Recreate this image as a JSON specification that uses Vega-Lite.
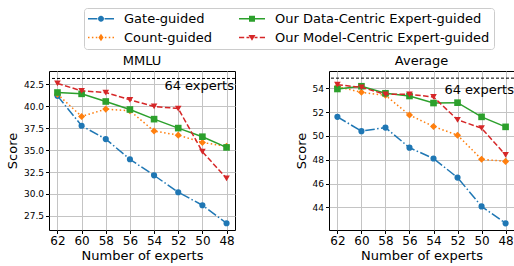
{
  "$schema": "https://vega.github.io/schema/vega-lite/v6.json",
  "padding": {"left": 5, "top": 7, "right": 0, "bottom": 0},
  "spacing": 58,
  "datasets": {
    "scores": [
      {"bench": "MMLU", "method": "Gate-guided", "experts": 62, "score": 41.17},
      {"bench": "MMLU", "method": "Gate-guided", "experts": 60, "score": 37.77},
      {"bench": "MMLU", "method": "Gate-guided", "experts": 58, "score": 36.25},
      {"bench": "MMLU", "method": "Gate-guided", "experts": 56, "score": 33.95},
      {"bench": "MMLU", "method": "Gate-guided", "experts": 54, "score": 32.12},
      {"bench": "MMLU", "method": "Gate-guided", "experts": 52, "score": 30.2},
      {"bench": "MMLU", "method": "Gate-guided", "experts": 50, "score": 28.72},
      {"bench": "MMLU", "method": "Gate-guided", "experts": 48, "score": 26.67},
      {"bench": "MMLU", "method": "Count-guided", "experts": 62, "score": 41.36},
      {"bench": "MMLU", "method": "Count-guided", "experts": 60, "score": 38.83},
      {"bench": "MMLU", "method": "Count-guided", "experts": 58, "score": 39.66},
      {"bench": "MMLU", "method": "Count-guided", "experts": 56, "score": 39.47},
      {"bench": "MMLU", "method": "Count-guided", "experts": 54, "score": 37.16},
      {"bench": "MMLU", "method": "Count-guided", "experts": 52, "score": 36.7},
      {"bench": "MMLU", "method": "Count-guided", "experts": 50, "score": 35.87},
      {"bench": "MMLU", "method": "Count-guided", "experts": 48, "score": 35.42},
      {"bench": "MMLU", "method": "Our Data-Centric Expert-guided", "experts": 62, "score": 41.55},
      {"bench": "MMLU", "method": "Our Data-Centric Expert-guided", "experts": 60, "score": 41.4},
      {"bench": "MMLU", "method": "Our Data-Centric Expert-guided", "experts": 58, "score": 40.53},
      {"bench": "MMLU", "method": "Our Data-Centric Expert-guided", "experts": 56, "score": 39.62},
      {"bench": "MMLU", "method": "Our Data-Centric Expert-guided", "experts": 54, "score": 38.52},
      {"bench": "MMLU", "method": "Our Data-Centric Expert-guided", "experts": 52, "score": 37.5},
      {"bench": "MMLU", "method": "Our Data-Centric Expert-guided", "experts": 50, "score": 36.52},
      {"bench": "MMLU", "method": "Our Data-Centric Expert-guided", "experts": 48, "score": 35.3},
      {"bench": "MMLU", "method": "Our Model-Centric Expert-guided", "experts": 62, "score": 42.58},
      {"bench": "MMLU", "method": "Our Model-Centric Expert-guided", "experts": 60, "score": 41.74},
      {"bench": "MMLU", "method": "Our Model-Centric Expert-guided", "experts": 58, "score": 41.55},
      {"bench": "MMLU", "method": "Our Model-Centric Expert-guided", "experts": 56, "score": 40.72},
      {"bench": "MMLU", "method": "Our Model-Centric Expert-guided", "experts": 54, "score": 39.96},
      {"bench": "MMLU", "method": "Our Model-Centric Expert-guided", "experts": 52, "score": 39.73},
      {"bench": "MMLU", "method": "Our Model-Centric Expert-guided", "experts": 50, "score": 34.81},
      {"bench": "MMLU", "method": "Our Model-Centric Expert-guided", "experts": 48, "score": 31.78},
      {"bench": "Average", "method": "Gate-guided", "experts": 62, "score": 51.6},
      {"bench": "Average", "method": "Gate-guided", "experts": 60, "score": 50.4},
      {"bench": "Average", "method": "Gate-guided", "experts": 58, "score": 50.7},
      {"bench": "Average", "method": "Gate-guided", "experts": 56, "score": 49.01},
      {"bench": "Average", "method": "Gate-guided", "experts": 54, "score": 48.1},
      {"bench": "Average", "method": "Gate-guided", "experts": 52, "score": 46.5},
      {"bench": "Average", "method": "Gate-guided", "experts": 50, "score": 44.08},
      {"bench": "Average", "method": "Gate-guided", "experts": 48, "score": 42.66},
      {"bench": "Average", "method": "Count-guided", "experts": 62, "score": 54.14},
      {"bench": "Average", "method": "Count-guided", "experts": 60, "score": 53.66},
      {"bench": "Average", "method": "Count-guided", "experts": 58, "score": 53.41},
      {"bench": "Average", "method": "Count-guided", "experts": 56, "score": 51.75},
      {"bench": "Average", "method": "Count-guided", "experts": 54, "score": 50.79},
      {"bench": "Average", "method": "Count-guided", "experts": 52, "score": 50.06},
      {"bench": "Average", "method": "Count-guided", "experts": 50, "score": 48.04},
      {"bench": "Average", "method": "Count-guided", "experts": 48, "score": 47.86},
      {"bench": "Average", "method": "Our Data-Centric Expert-guided", "experts": 62, "score": 53.94},
      {"bench": "Average", "method": "Our Data-Centric Expert-guided", "experts": 60, "score": 54.17},
      {"bench": "Average", "method": "Our Data-Centric Expert-guided", "experts": 58, "score": 53.58},
      {"bench": "Average", "method": "Our Data-Centric Expert-guided", "experts": 56, "score": 53.35},
      {"bench": "Average", "method": "Our Data-Centric Expert-guided", "experts": 54, "score": 52.76},
      {"bench": "Average", "method": "Our Data-Centric Expert-guided", "experts": 52, "score": 52.79},
      {"bench": "Average", "method": "Our Data-Centric Expert-guided", "experts": 50, "score": 51.6},
      {"bench": "Average", "method": "Our Data-Centric Expert-guided", "experts": 48, "score": 50.76},
      {"bench": "Average", "method": "Our Model-Centric Expert-guided", "experts": 62, "score": 54.3},
      {"bench": "Average", "method": "Our Model-Centric Expert-guided", "experts": 60, "score": 54.08},
      {"bench": "Average", "method": "Our Model-Centric Expert-guided", "experts": 58, "score": 53.49},
      {"bench": "Average", "method": "Our Model-Centric Expert-guided", "experts": 56, "score": 53.49},
      {"bench": "Average", "method": "Our Model-Centric Expert-guided", "experts": 54, "score": 53.27},
      {"bench": "Average", "method": "Our Model-Centric Expert-guided", "experts": 52, "score": 51.35},
      {"bench": "Average", "method": "Our Model-Centric Expert-guided", "experts": 50, "score": 50.65},
      {"bench": "Average", "method": "Our Model-Centric Expert-guided", "experts": 48, "score": 48.4}
    ],
    "refs": [
      {"bench": "MMLU", "score": 43.15, "label": "64 experts"},
      {"bench": "Average", "score": 54.85, "label": "64 experts"}
    ]
  },
  "hconcat": [
    {
      "width": 186,
      "height": 159,
      "title": "MMLU",
      "layer": [
        {
          "data": {"name": "refs"},
          "transform": [{"filter": "datum.bench === 'MMLU'"}],
          "mark": {"type": "rule", "color": "black", "strokeWidth": 1, "strokeDash": [3, 2]},
          "encoding": {"y": {"field": "score", "type": "quantitative", "scale": {"domain": [25.9, 44.0], "nice": false, "zero": false}, "axis": {"values": [27.5, 30, 32.5, 35, 37.5, 40, 42.5], "format": ".1f", "title": "Score"}}}
        },
        {
          "data": {"name": "refs"},
          "transform": [{"filter": "datum.bench === 'MMLU'"}],
          "mark": {"type": "text", "align": "right", "baseline": "alphabetic", "dy": 11.3, "dx": -1, "fontSize": 13, "font": "DejaVu Sans", "color": "black"},
          "encoding": {
            "x": {"value": "width"},
            "y": {"field": "score", "type": "quantitative", "scale": {"domain": [25.9, 44.0], "nice": false, "zero": false}, "axis": {"values": [27.5, 30, 32.5, 35, 37.5, 40, 42.5], "format": ".1f", "title": "Score"}},
            "text": {"field": "label"}
          }
        },
        {
          "data": {"name": "scores"},
          "transform": [{"filter": "datum.bench === 'MMLU' && datum.method === 'Gate-guided'"}],
          "mark": {"type": "line", "color": "#1f77b4", "strokeWidth": 1.5, "strokeDash": [9.6, 2.4, 1.5, 2.4], "point": {"shape": "circle", "filled": true, "size": 38, "color": "#1f77b4"}},
          "encoding": {
            "x": {"field": "experts", "type": "quantitative", "scale": {"domain": [62.7, 47.3], "nice": false, "zero": false}, "axis": {"values": [62, 60, 58, 56, 54, 52, 50, 48], "title": "Number of experts"}},
            "y": {"field": "score", "type": "quantitative", "scale": {"domain": [25.9, 44.0], "nice": false, "zero": false}, "axis": {"values": [27.5, 30, 32.5, 35, 37.5, 40, 42.5], "format": ".1f", "title": "Score"}}
          }
        },
        {
          "data": {"name": "scores"},
          "transform": [{"filter": "datum.bench === 'MMLU' && datum.method === 'Count-guided'"}],
          "mark": {"type": "line", "color": "#ff7f0e", "strokeWidth": 1.5, "strokeDash": [1.5, 2.5], "point": {"shape": "diamond", "filled": true, "size": 50, "color": "#ff7f0e"}},
          "encoding": {
            "x": {"field": "experts", "type": "quantitative", "scale": {"domain": [62.7, 47.3], "nice": false, "zero": false}, "axis": {"values": [62, 60, 58, 56, 54, 52, 50, 48], "title": "Number of experts"}},
            "y": {"field": "score", "type": "quantitative", "scale": {"domain": [25.9, 44.0], "nice": false, "zero": false}, "axis": {"values": [27.5, 30, 32.5, 35, 37.5, 40, 42.5], "format": ".1f", "title": "Score"}}
          }
        },
        {
          "data": {"name": "scores"},
          "transform": [{"filter": "datum.bench === 'MMLU' && datum.method === 'Our Data-Centric Expert-guided'"}],
          "mark": {"type": "line", "color": "#2ca02c", "strokeWidth": 1.5, "point": {"shape": "square", "filled": true, "size": 44, "color": "#2ca02c"}},
          "encoding": {
            "x": {"field": "experts", "type": "quantitative", "scale": {"domain": [62.7, 47.3], "nice": false, "zero": false}, "axis": {"values": [62, 60, 58, 56, 54, 52, 50, 48], "title": "Number of experts"}},
            "y": {"field": "score", "type": "quantitative", "scale": {"domain": [25.9, 44.0], "nice": false, "zero": false}, "axis": {"values": [27.5, 30, 32.5, 35, 37.5, 40, 42.5], "format": ".1f", "title": "Score"}}
          }
        },
        {
          "data": {"name": "scores"},
          "transform": [{"filter": "datum.bench === 'MMLU' && datum.method === 'Our Model-Centric Expert-guided'"}],
          "mark": {"type": "line", "color": "#d62728", "strokeWidth": 1.5, "strokeDash": [5.5, 2.4], "point": {"shape": "triangle-down", "filled": true, "size": 44, "color": "#d62728"}},
          "encoding": {
            "x": {"field": "experts", "type": "quantitative", "scale": {"domain": [62.7, 47.3], "nice": false, "zero": false}, "axis": {"values": [62, 60, 58, 56, 54, 52, 50, 48], "title": "Number of experts"}},
            "y": {"field": "score", "type": "quantitative", "scale": {"domain": [25.9, 44.0], "nice": false, "zero": false}, "axis": {"values": [27.5, 30, 32.5, 35, 37.5, 40, 42.5], "format": ".1f", "title": "Score"}}
          }
        },
        {
          "data": {"name": "scores"},
          "transform": [{"filter": "datum.bench === 'MMLU'"}],
          "mark": {"type": "point", "filled": true, "opacity": 0},
          "encoding": {
            "x": {"field": "experts", "type": "quantitative", "scale": {"domain": [62.7, 47.3], "nice": false, "zero": false}, "axis": {"values": [62, 60, 58, 56, 54, 52, 50, 48], "title": "Number of experts"}},
            "y": {"field": "score", "type": "quantitative", "scale": {"domain": [25.9, 44.0], "nice": false, "zero": false}, "axis": {"values": [27.5, 30, 32.5, 35, 37.5, 40, 42.5], "format": ".1f", "title": "Score"}},
            "color": {
              "field": "method", "type": "nominal",
              "scale": {
                "domain": ["Gate-guided", "Count-guided", "Our Data-Centric Expert-guided", "Our Model-Centric Expert-guided"],
                "range": ["#1f77b4", "#ff7f0e", "#2ca02c", "#d62728"]
              },
              "legend": {"orient": "none", "legendX": 35, "legendY": -63, "columns": 2, "title": null, "symbolSize": 169, "symbolStrokeWidth": 0, "symbolOpacity": 1, "labelOffset": 23, "labelFontSize": 13, "labelFont": "DejaVu Sans", "labelColor": "black", "labelLimit": 400, "columnPadding": 27, "rowPadding": 5, "padding": 4, "strokeColor": "#cccccc", "fillColor": "white", "cornerRadius": 3}
            },
            "shape": {
              "field": "method", "type": "nominal",
              "scale": {
                "domain": ["Gate-guided", "Count-guided", "Our Data-Centric Expert-guided", "Our Model-Centric Expert-guided"],
                "range": [
                  "M-1,-0.115H0.45V0.115H-1Z M1.55,-0.115H3V0.115H1.55Z M0.54,0A0.46,0.46 0 1,1 1.46,0A0.46,0.46 0 1,1 0.54,0Z",
                  "M-1,-0.115H-0.77V0.115H-1Z M-0.4,-0.115H-0.17V0.115H-0.4Z M0.2,-0.115H0.43V0.115H0.2Z M1.6,-0.115H1.83V0.115H1.6Z M2.2,-0.115H2.43V0.115H2.2Z M2.77,-0.115H3V0.115H2.77Z M1,-0.57L1.4,0L1,0.57L0.6,0Z",
                  "M-1,-0.115H3V0.115H-1Z M0.54,-0.46H1.46V0.46H0.54Z",
                  "M-1,-0.115H-0.2V0.115H-1Z M0.15,-0.115H0.6V0.115H0.15Z M1.4,-0.115H1.85V0.115H1.4Z M2.2,-0.115H3V0.115H2.2Z M0.46,-0.4H1.54L1,0.5Z"
                ]
              },
              "legend": {"orient": "none", "legendX": 35, "legendY": -63, "columns": 2, "title": null, "symbolSize": 169, "symbolStrokeWidth": 0, "symbolOpacity": 1, "labelOffset": 23, "labelFontSize": 13, "labelFont": "DejaVu Sans", "labelColor": "black", "labelLimit": 400, "columnPadding": 27, "rowPadding": 5, "padding": 4, "strokeColor": "#cccccc", "fillColor": "white", "cornerRadius": 3}
            }
          }
        }
      ]
    },
    {
      "width": 185,
      "height": 159,
      "title": "Average",
      "layer": [
        {
          "data": {"name": "refs"},
          "transform": [{"filter": "datum.bench === 'Average'"}],
          "mark": {"type": "rule", "color": "black", "strokeWidth": 1, "strokeDash": [3, 2]},
          "encoding": {"y": {"field": "score", "type": "quantitative", "scale": {"domain": [42.1, 55.45], "nice": false, "zero": false}, "axis": {"values": [44, 46, 48, 50, 52, 54], "format": "d", "title": "Score"}}}
        },
        {
          "data": {"name": "refs"},
          "transform": [{"filter": "datum.bench === 'Average'"}],
          "mark": {"type": "text", "align": "right", "baseline": "alphabetic", "dy": 15.7, "dx": 0, "fontSize": 13, "font": "DejaVu Sans", "color": "black"},
          "encoding": {
            "x": {"value": "width"},
            "y": {"field": "score", "type": "quantitative", "scale": {"domain": [42.1, 55.45], "nice": false, "zero": false}, "axis": {"values": [44, 46, 48, 50, 52, 54], "format": "d", "title": "Score"}},
            "text": {"field": "label"}
          }
        },
        {
          "data": {"name": "scores"},
          "transform": [{"filter": "datum.bench === 'Average' && datum.method === 'Gate-guided'"}],
          "mark": {"type": "line", "color": "#1f77b4", "strokeWidth": 1.5, "strokeDash": [9.6, 2.4, 1.5, 2.4], "point": {"shape": "circle", "filled": true, "size": 38, "color": "#1f77b4"}},
          "encoding": {
            "x": {"field": "experts", "type": "quantitative", "scale": {"domain": [62.7, 47.3], "nice": false, "zero": false}, "axis": {"values": [62, 60, 58, 56, 54, 52, 50, 48], "title": "Number of experts"}},
            "y": {"field": "score", "type": "quantitative", "scale": {"domain": [42.1, 55.45], "nice": false, "zero": false}, "axis": {"values": [44, 46, 48, 50, 52, 54], "format": "d", "title": "Score"}}
          }
        },
        {
          "data": {"name": "scores"},
          "transform": [{"filter": "datum.bench === 'Average' && datum.method === 'Count-guided'"}],
          "mark": {"type": "line", "color": "#ff7f0e", "strokeWidth": 1.5, "strokeDash": [1.5, 2.5], "point": {"shape": "diamond", "filled": true, "size": 50, "color": "#ff7f0e"}},
          "encoding": {
            "x": {"field": "experts", "type": "quantitative", "scale": {"domain": [62.7, 47.3], "nice": false, "zero": false}, "axis": {"values": [62, 60, 58, 56, 54, 52, 50, 48], "title": "Number of experts"}},
            "y": {"field": "score", "type": "quantitative", "scale": {"domain": [42.1, 55.45], "nice": false, "zero": false}, "axis": {"values": [44, 46, 48, 50, 52, 54], "format": "d", "title": "Score"}}
          }
        },
        {
          "data": {"name": "scores"},
          "transform": [{"filter": "datum.bench === 'Average' && datum.method === 'Our Data-Centric Expert-guided'"}],
          "mark": {"type": "line", "color": "#2ca02c", "strokeWidth": 1.5, "point": {"shape": "square", "filled": true, "size": 44, "color": "#2ca02c"}},
          "encoding": {
            "x": {"field": "experts", "type": "quantitative", "scale": {"domain": [62.7, 47.3], "nice": false, "zero": false}, "axis": {"values": [62, 60, 58, 56, 54, 52, 50, 48], "title": "Number of experts"}},
            "y": {"field": "score", "type": "quantitative", "scale": {"domain": [42.1, 55.45], "nice": false, "zero": false}, "axis": {"values": [44, 46, 48, 50, 52, 54], "format": "d", "title": "Score"}}
          }
        },
        {
          "data": {"name": "scores"},
          "transform": [{"filter": "datum.bench === 'Average' && datum.method === 'Our Model-Centric Expert-guided'"}],
          "mark": {"type": "line", "color": "#d62728", "strokeWidth": 1.5, "strokeDash": [5.5, 2.4], "point": {"shape": "triangle-down", "filled": true, "size": 44, "color": "#d62728"}},
          "encoding": {
            "x": {"field": "experts", "type": "quantitative", "scale": {"domain": [62.7, 47.3], "nice": false, "zero": false}, "axis": {"values": [62, 60, 58, 56, 54, 52, 50, 48], "title": "Number of experts"}},
            "y": {"field": "score", "type": "quantitative", "scale": {"domain": [42.1, 55.45], "nice": false, "zero": false}, "axis": {"values": [44, 46, 48, 50, 52, 54], "format": "d", "title": "Score"}}
          }
        }
      ]
    }
  ],
  "resolve": {"scale": {"x": "independent", "y": "independent"}},
  "config": {
    "font": "DejaVu Sans",
    "view": {"stroke": "black", "strokeWidth": 1},
    "title": {"fontSize": 13, "font": "DejaVu Sans", "fontWeight": "normal", "color": "black", "offset": 3},
    "axis": {"grid": true, "gridColor": "#c4c4c4", "gridWidth": 1, "domain": false, "tickColor": "black", "tickSize": 3.5, "tickWidth": 1, "labelColor": "black", "titleColor": "black", "labelFont": "DejaVu Sans", "titleFont": "DejaVu Sans", "titleFontWeight": "normal", "titleFontSize": 13},
    "axisX": {"labelFontSize": 12, "labelPadding": 2, "titlePadding": 3, "labelAngle": 0},
    "axisY": {"labelFontSize": 9, "labelPadding": 2, "titlePadding": 4}
  }
}
